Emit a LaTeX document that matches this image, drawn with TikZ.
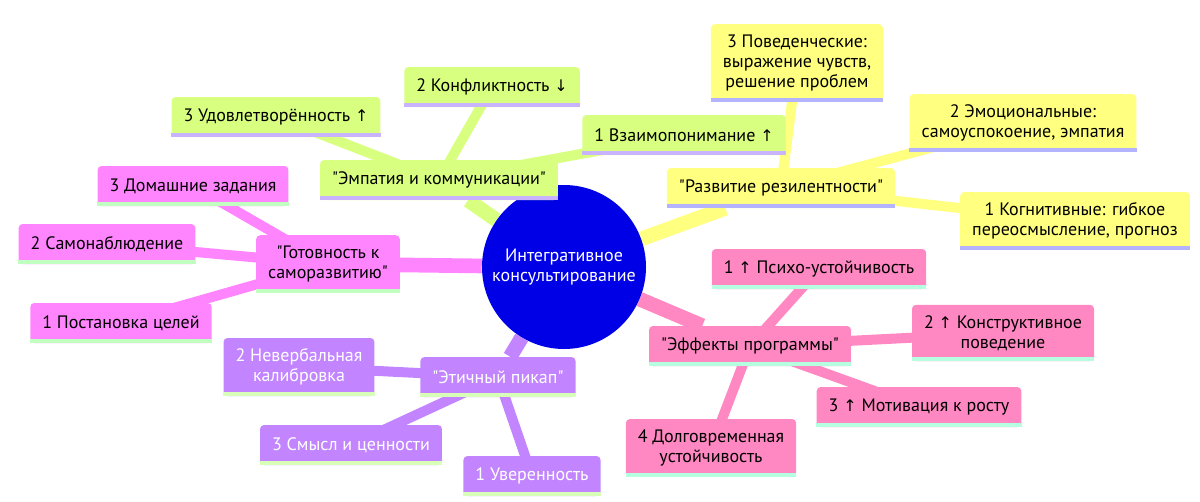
\documentclass[tikz,border=0pt]{standalone}
\usepackage{fontspec}
\setmainfont{PT Sans}
\newfontfamily\arrowfont{DejaVu Sans}
\usetikzlibrary{backgrounds}

\definecolor{rootblue}{HTML}{0000E6}
\definecolor{secgreen}{HTML}{D9FF80}
\definecolor{secyellow}{HTML}{FFFF80}
\definecolor{secmagenta}{HTML}{FF85FF}
\definecolor{secpurple}{HTML}{C285FF}
\definecolor{secpink}{HTML}{FF88C2}
\definecolor{linegreen}{HTML}{C9B3FF}
\definecolor{lineyellow}{HTML}{B3B3FF}
\definecolor{linemagenta}{HTML}{C0FFC0}
\definecolor{linepurple}{HTML}{D8FFB8}
\definecolor{linepink}{HTML}{B5FFE0}

\newcommand{\arrUp}{{\arrowfont\fontsize{12}{15}\selectfont ↑}}
\newcommand{\arrDn}{{\arrowfont\fontsize{12}{15}\selectfont ↓}}
\newcommand{\qt}[1]{\textquotedbl#1\textquotedbl}

\begin{document}
\begin{tikzpicture}[
    x=0.75pt, y=-0.75pt,
    box/.style={rectangle, rounded corners=3pt, inner xsep=9pt, inner ysep=8pt, minimum height=30pt, align=center, font=\fontsize{13.5}{15}\selectfont},
    root/.style={circle, fill=rootblue, text=white, minimum size=123pt, inner sep=0pt, align=center, font=\fontsize{13.5}{15}\selectfont},
    edge1/.style={line width=11pt},
    edge2/.style={line width=7.5pt},
    uline/.style={line width=3pt},
]
\useasboundingbox (0,0) rectangle (1200,501);

\node[root] (root) at (564,267) {Интегративное\\консультирование};

% empathy branch
\node[box, fill=secgreen] (empathy) at (439,180) {\qt{Эмпатия и коммуникации}};
\node[box, fill=secgreen] (satisf) at (276,117) {3 Удовлетворённость \arrUp};
\node[box, fill=secgreen] (conflict) at (492,87) {2 Конфликтность \arrDn};
\node[box, fill=secgreen] (underst) at (684,135) {1 Взаимопонимание \arrUp};

% resilience branch
\node[box, fill=secyellow] (resil) at (781,188) {\qt{Развитие резилентности}};
\node[box, fill=secyellow] (behav) at (797,63) {3 Поведенческие:\\выражение чувств,\\решение проблем};
\node[box, fill=secyellow] (emot) at (1023,123) {2 Эмоциональные:\\самоуспокоение, эмпатия};
\node[box, fill=secyellow] (cogn) at (1075,221) {1 Когнитивные: гибкое\\переосмысление, прогноз};

% readiness branch
\node[box, fill=secmagenta] (ready) at (328,264) {\qt{Готовность к\\саморазвитию}};
\node[box, fill=secmagenta] (homework) at (193,186) {3 Домашние задания};
\node[box, fill=secmagenta] (selfobs) at (107,244) {2 Самонаблюдение};
\node[box, fill=secmagenta] (goals) at (121,323) {1 Постановка целей};

% pickup branch
\node[box, fill=secpurple, text=white] (pickup) at (498,377) {\qt{Этичный пикап}};
\node[box, fill=secpurple, text=white] (nonverb) at (299,367) {2 Невербальная\\калибровка};
\node[box, fill=secpurple, text=white] (values) at (351,445) {3 Смысл и ценности};
\node[box, fill=secpurple, text=white] (confid) at (532,476) {1 Уверенность};

% effects branch
\node[box, fill=secpink] (effects) at (750,346) {\qt{Эффекты программы}};
\node[box, fill=secpink] (resist) at (819,269) {1 \arrUp{} Психо-устойчивость};
\node[box, fill=secpink] (constr) at (1003,333) {2 \arrUp{} Конструктивное\\поведение};
\node[box, fill=secpink] (motiv) at (919,407) {3 \arrUp{} Мотивация к росту};
\node[box, fill=secpink] (longterm) at (711,448) {4 Долговременная\\устойчивость};

% underlines
\foreach \n/\c in {empathy/linegreen, satisf/linegreen, conflict/linegreen, underst/linegreen,
    resil/lineyellow, behav/lineyellow, emot/lineyellow, cogn/lineyellow,
    ready/linemagenta, homework/linemagenta, selfobs/linemagenta, goals/linemagenta,
    pickup/linepurple, nonverb/linepurple, values/linepurple, confid/linepurple,
    effects/linepink, resist/linepink, constr/linepink, motiv/linepink, longterm/linepink}
    \draw[uline, \c] ([yshift=1.5pt]\n.south west) -- ([yshift=1.5pt]\n.south east);

\begin{scope}[on background layer]
\draw[edge1, secgreen] (root) -- (empathy);
\draw[edge2, secgreen] (empathy.center) -- (satisf.center);
\draw[edge2, secgreen] (empathy.center) -- (conflict.center);
\draw[edge2, secgreen] (empathy.center) -- (underst.center);
\draw[edge1, secyellow] (root) -- (resil);
\draw[edge2, secyellow] (resil.center) -- (behav.center);
\draw[edge2, secyellow] (resil.center) -- (emot.center);
\draw[edge2, secyellow] (resil.center) -- (cogn.center);
\draw[edge1, secmagenta] (root) -- (ready);
\draw[edge2, secmagenta] (ready.center) -- (homework.center);
\draw[edge2, secmagenta] (ready.center) -- (selfobs.center);
\draw[edge2, secmagenta] (ready.center) -- (goals.center);
\draw[edge1, secpurple] (root) -- (pickup);
\draw[edge2, secpurple] (pickup.center) -- (nonverb.center);
\draw[edge2, secpurple] (pickup.center) -- (values.center);
\draw[edge2, secpurple] (pickup.center) -- (confid.center);
\draw[edge1, secpink] (root) -- (effects);
\draw[edge2, secpink] (effects.center) -- (resist.center);
\draw[edge2, secpink] (effects.center) -- (constr.center);
\draw[edge2, secpink] (effects.center) -- (motiv.center);
\draw[edge2, secpink] (effects.center) -- (longterm.center);
\end{scope}
\end{tikzpicture}
\end{document}
